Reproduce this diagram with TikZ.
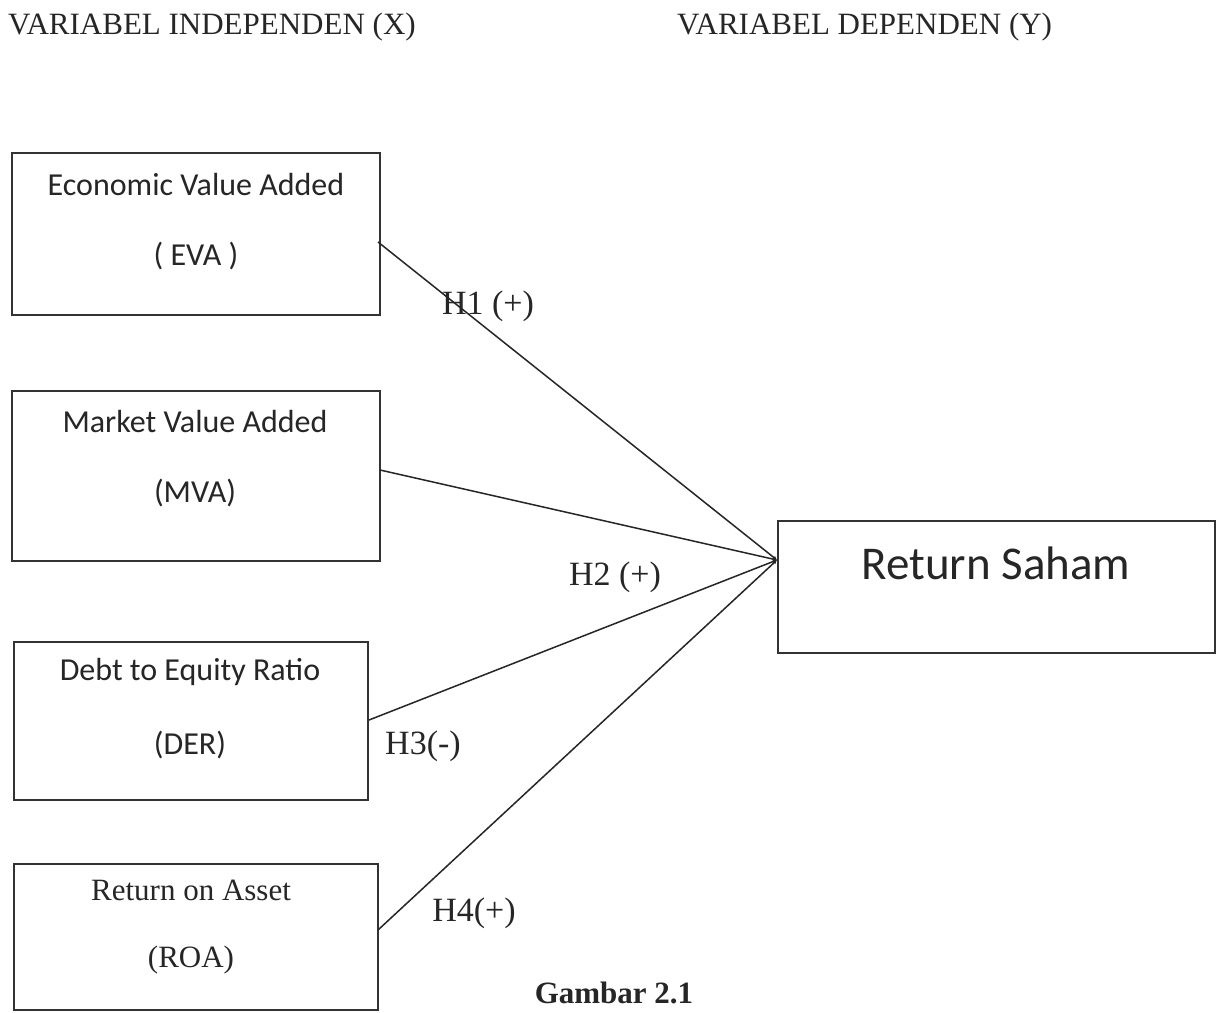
\documentclass[tikz,border=0pt]{standalone}
\usepackage{fontspec}
\setmainfont{Liberation Serif}
\newfontfamily\calfont{Carlito}
\usetikzlibrary{arrows.meta}
\begin{document}
\begin{tikzpicture}[x=1pt,y=-1pt,
  box/.style={draw=black!80, line width=1.6pt},
  conn/.style={draw=black!85, line width=1.5pt},
  lbl/.style={font=\fontsize{34}{36}\selectfont, inner sep=0pt, text=black!85},
  hdr/.style={font=\fontsize{31}{33}\selectfont, inner sep=0pt, text=black!85, anchor=west},
  btxt/.style={font=\calfont\fontsize{32}{34}\selectfont, inner sep=0pt, text=black!85},
  rtxt/.style={font=\fontsize{31}{33}\selectfont, inner sep=0pt, text=black!85}]
\useasboundingbox (0,0) rectangle (1217,1012);
\fill[white] (0,0) rectangle (1217,1012);
% headers
\node[hdr] (hx) at (8,27) {VARIABEL INDEPENDEN (X)};
\node[hdr] (hy) at (677,27) {VARIABEL DEPENDEN (Y)};
% boxes
\draw[box] (12,153) rectangle (380,315);
\draw[box] (12,391) rectangle (380,561);
\draw[box] (14,642) rectangle (368,800);
\draw[box] (14,864) rectangle (378,1010);
\draw[box] (778,521) rectangle (1215,653);
\node[btxt] (eva1) at (196,185) {Economic Value Added};
\node[btxt] (eva2) at (196,256) {( EVA )};
\node[btxt] (mva1) at (195,422) {Market Value Added};
\node[btxt] (mva2) at (195,493) {(MVA)};
\node[btxt] (der1) at (190,672) {Debt to Equity Ratio};
\node[btxt] (der2) at (190,745) {(DER)};
\node[rtxt] (roa1) at (191,890) {Return on Asset};
\node[rtxt] (roa2) at (191,960) {(ROA)};
\node[btxt, font=\calfont\fontsize{47}{49}\selectfont] (ret) at (996,563) {Return Saham};
% connector points
\coordinate (tip) at (777,560);
\coordinate (eE) at (378,242);
\coordinate (mE) at (380,470);
\coordinate (dE) at (369,720);
\coordinate (rE) at (378,930);
\draw[conn, -{Latex[length=4pt,width=4pt]}] (eE) -- (tip);
\draw[conn, -{Latex[length=4pt,width=4pt]}] (mE) -- (tip);
\draw[conn, -{Latex[length=4pt,width=4pt]}] (dE) -- (tip);
\draw[conn, -{Latex[length=4pt,width=4pt]}] (rE) -- (tip);
% hypothesis labels
\node[lbl] (h1) at (488,306) {H1 (+)};
\node[lbl] (h2) at (615,577) {H2 (+)};
\node[lbl] (h3) at (423,746) {H3(-)};
\node[lbl] (h4) at (474,913) {H4(+)};
\node[lbl, font=\bfseries\fontsize{31}{33}\selectfont] (cap) at (614,993) {Gambar 2.1};
\end{tikzpicture}
\end{document}
